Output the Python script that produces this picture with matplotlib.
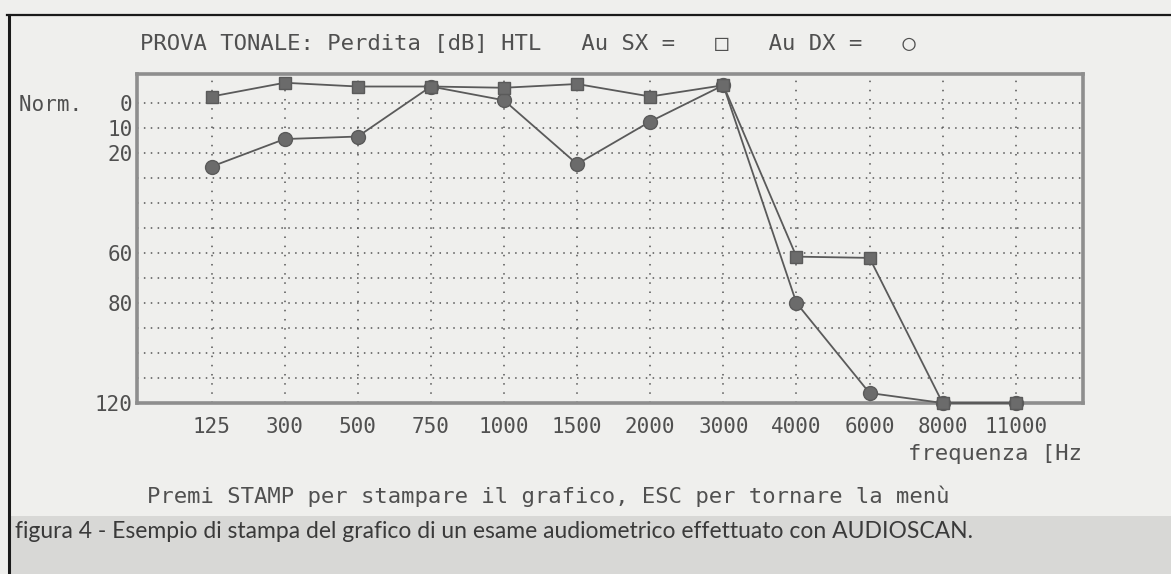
import matplotlib.pyplot as plt
from matplotlib.lines import Line2D
from matplotlib.patches import Rectangle

# audiogram data: hearing loss in dB HTL per test frequency
freqs = ["125", "300", "500", "750", "1000", "1500", "2000", "3000",
         "4000", "6000", "8000", "11000"]
left_ear = [-2.5, -8, -6.5, -6.5, -6, -7.5, -2.5, -7, 61.5, 62, 120, 120]    # Au SX (squares)
right_ear = [25.5, 14.5, 13.5, -6.5, -1, 24.5, 7.5, -7, 80, 116, 120, 120]   # Au DX (circles)
y_grid = [0, 10, 20, 30, 40, 50, 60, 70, 80, 90, 100, 110]
y_ticks = [0, 10, 20, 60, 80, 120]
y_labels = ["Norm.   0", "10", "20", "60", "80", "120"]

W, H = 1171, 574
mono = ["DejaVu Sans Mono", "DejaVu Sans"]
ink = "#505050"

fig = plt.figure(figsize=(W / 100, H / 100), dpi=100)
fig.patch.set_facecolor("#efefed")

def fx(px):
    return px / W

def fy(py):
    return 1 - py / H

# grey caption band and page frame
fig.patches.append(Rectangle((fx(9), 0), 1, fy(516), transform=fig.transFigure,
                             facecolor="#d8d8d6", edgecolor="none", zorder=0))
fig.lines.append(Line2D([fx(7), 1], [fy(15), fy(15)], transform=fig.transFigure,
                        color="#1a1a1a", lw=1.6))
fig.lines.append(Line2D([fx(9), fx(9)], [fy(15), 0], transform=fig.transFigure,
                        color="#1a1a1a", lw=2.2))

ax = fig.add_axes([fx(137), fy(403), fx(1083) - fx(137), fy(74) - fy(403)])
ax.set_facecolor("none")

x = list(range(len(freqs)))
ax.plot(x, right_ear, color="#5a5a5a", lw=1.3, marker="o", markersize=10,
        markerfacecolor="#6b6b6b", markeredgecolor="#5a5a5a", clip_on=False, zorder=3)
ax.plot(x, left_ear, color="#5a5a5a", lw=1.3, marker="s", markersize=9,
        markerfacecolor="#6b6b6b", markeredgecolor="#5a5a5a", clip_on=False, zorder=4)

ax.set_xlim(-1.02, 11.92)
ax.set_ylim(120, -11.5)

# dotted grid
for g in y_grid:
    ax.axhline(g, color="#555555", lw=1.1, ls=(0, (1, 3.5)), zorder=1)
for xi in x:
    ax.axvline(xi, color="#555555", lw=1.1, ls=(0, (1, 5)), zorder=1)

ax.set_xticks(x)
ax.set_xticklabels(freqs, fontsize=15, family=mono, color=ink)
ax.set_yticks(y_ticks)
ax.set_yticklabels(y_labels, fontsize=15, family=mono, color=ink)
ax.tick_params(length=0, pad=3)
ax.tick_params(axis="x", pad=10)

for s in ax.spines.values():
    s.set_color("#8e8e8e")
    s.set_linewidth(2.6)

fig.text(fx(140), fy(44), "PROVA TONALE: Perdita [dB] HTL   Au SX =   □   Au DX =   ○",
         fontsize=16, family=mono, color=ink, ha="left", va="center")
fig.text(fx(1082), fy(454), "frequenza [Hz", fontsize=16, family=mono, color=ink,
         ha="right", va="center")
fig.text(fx(147), fy(496), "Premi STAMP per stampare il grafico, ESC per tornare la menù",
         fontsize=16, family=mono, color=ink, ha="left", va="center")
fig.text(fx(15), fy(532),
         "figura 4 - Esempio di stampa del grafico di un esame audiometrico effettuato con AUDIOSCAN.",
         fontsize=16.5, family=["Lato", "DejaVu Sans"], color="#3a3a3a",
         ha="left", va="center")

fig.savefig("out.png", dpi=100)
